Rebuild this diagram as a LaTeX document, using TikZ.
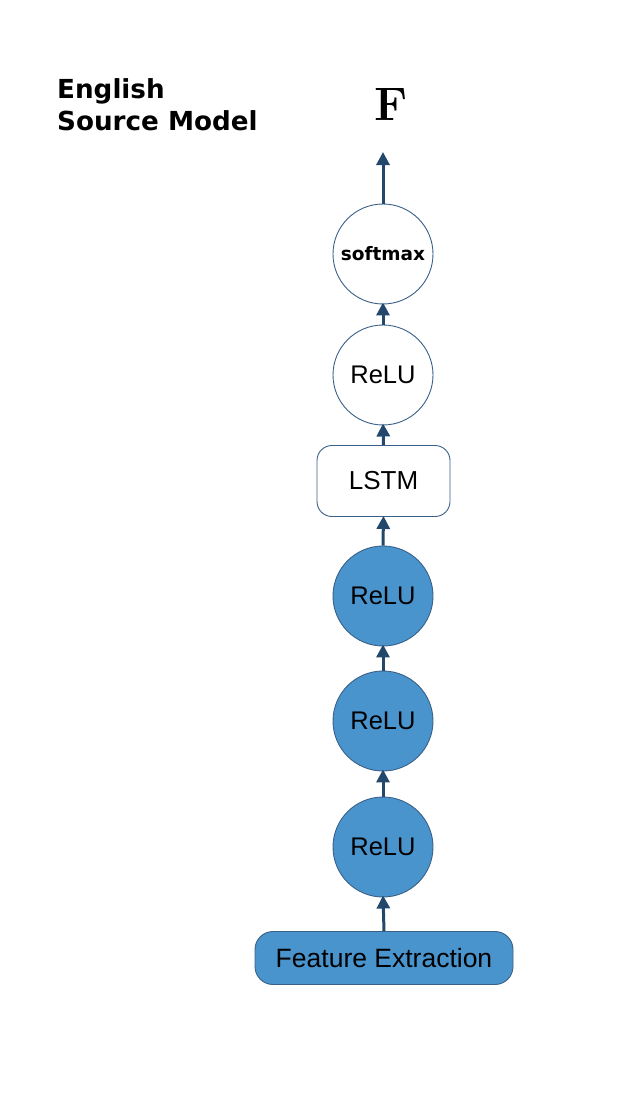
\documentclass[tikz,border=0pt]{standalone}
\usepackage{fontspec}
\newfontfamily\arialf{Liberation Sans}
\newfontfamily\dejaf{DejaVu Sans}
\usetikzlibrary{arrows.meta}
\definecolor{fillblue}{RGB}{74,148,206}
\definecolor{edgeblue}{RGB}{58,96,136}
\definecolor{arrowc}{RGB}{36,72,108}
\tikzset{
  x=1pt,y=1pt,
  whitecirc/.style={circle,draw=edgeblue,line width=0.9pt,fill=white,minimum size=100pt,inner sep=0pt,font=\arialf\fontsize{25.5}{30}\selectfont},
  bluecirc/.style={circle,draw=edgeblue,line width=0.9pt,fill=fillblue,minimum size=100pt,inner sep=0pt,font=\arialf\fontsize{25.5}{30}\selectfont},
  lstmbox/.style={rectangle,rounded corners=15pt,draw=edgeblue,line width=0.9pt,fill=white,minimum width=133pt,minimum height=71pt,inner sep=0pt,font=\arialf\fontsize{26}{30}\selectfont},
  featbox/.style={rectangle,rounded corners=18pt,draw=edgeblue,line width=0.9pt,fill=fillblue,minimum width=258pt,minimum height=53pt,inner sep=0pt,font=\arialf\fontsize{26.5}{30}\selectfont},
  conn/.style={draw=arrowc,line width=3pt,-{Triangle[length=13pt,width=13pt]}},
}
\begin{document}
\begin{tikzpicture}
\useasboundingbox (0,0) rectangle (635,-1096);
\node[anchor=base west,font=\dejaf\bfseries\fontsize{26.2}{32}\selectfont,align=left,inner sep=0pt] (title) at (57,-130) {English\\Source Model};
\node[anchor=base,font=\bfseries\fontsize{47}{50}\selectfont,inner sep=0pt] (F) at (391,-120) {F};
\coordinate (top) at (383,-152);
\node[whitecirc,font=\dejaf\bfseries\fontsize{18.5}{22}\selectfont] (soft) at (383,-254) {softmax};
\node[whitecirc] (relu4) at (383,-375) {ReLU};
\node[lstmbox] (lstm) at (383.5,-481) {LSTM};
\node[bluecirc] (relu3) at (383,-596) {ReLU};
\node[bluecirc] (relu2) at (383,-721) {ReLU};
\node[bluecirc] (relu1) at (383,-847) {ReLU};
\node[featbox] (feat) at (384,-958) {Feature Extraction};
\draw[conn] (soft.north) -- (top);
\draw[conn] (relu4.north) -- ([yshift=2pt]soft.south);
\draw[conn] (lstm.north) -- ([yshift=2pt]relu4.south);
\draw[conn] (relu3.north) -- ([yshift=1pt]lstm.south);
\draw[conn] (relu2.north) -- ([yshift=2pt]relu3.south);
\draw[conn] (relu1.north) -- ([yshift=2pt]relu2.south);
\draw[conn] (feat.north) -- ([yshift=2pt]relu1.south);
\end{tikzpicture}
\end{document}
